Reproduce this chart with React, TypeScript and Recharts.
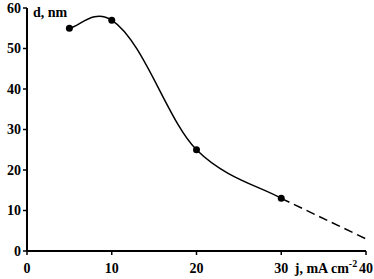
import React from 'react';
import { LineChart, Line, XAxis, YAxis, Label } from 'recharts';

const currentDensity = [5, 10, 20, 30, 40];
const sizeMeasured = [55, 57, 25, 13, null];
const sizeExtrapolated = [null, null, null, 13, 3];
const xTicks = [0, 10, 20, 30, 40];
const yTicks = [0, 10, 20, 30, 40, 50, 60];

const data = currentDensity.map((j, i) => ({
  j,
  d: sizeMeasured[i],
  dExt: sizeExtrapolated[i],
}));

const font = '"Liberation Serif"';
const tickStyle = { fontSize: 14, fontWeight: 700, fill: '#000', style: { fontFamily: font } };

const norm = (v: number[]) => {
  const l = Math.hypot(v[0], v[1]) || 1;
  return [v[0] / l, v[1] / l];
};
const sub = (a: number[], b: number[]) => [a[0] - b[0], a[1] - b[1]];

// Smoothed line through the points (cubic Bezier, blended Catmull-Rom / centripetal tangents)
const smoothCurve: any = (context: any) => {
  let pts: number[][] = [];
  const tangentDir = (i: number) => {
    const n = pts.length;
    if (i === 0) return norm(sub(pts[1], pts[0]));
    if (i === n - 1) return norm(sub(pts[n - 1], pts[n - 2]));
    const cr = norm(sub(pts[i + 1], pts[i - 1]));
    const a = norm(sub(pts[i], pts[i - 1]));
    const b = norm(sub(pts[i + 1], pts[i]));
    const us = norm([a[0] + b[0], a[1] + b[1]]);
    return norm([cr[0] + us[0], cr[1] + us[1]]);
  };
  const arm = (i: number, seg: number) => {
    const n = pts.length;
    const p0 = pts[Math.max(i - 1, 0)];
    const p2 = pts[Math.min(i + 1, n - 1)];
    const cr = Math.hypot(p2[0] - p0[0], p2[1] - p0[1]) / 6;
    return Math.min(Math.max(cr, seg / 4), seg / 2);
  };
  return {
    areaStart() {},
    areaEnd() {},
    lineStart() {
      pts = [];
    },
    point(x: number, y: number) {
      pts.push([+x, +y]);
    },
    lineEnd() {
      if (!pts.length) return;
      context.moveTo(pts[0][0], pts[0][1]);
      for (let i = 0; i < pts.length - 1; i++) {
        const p1 = pts[i];
        const p2 = pts[i + 1];
        const seg = Math.hypot(p2[0] - p1[0], p2[1] - p1[1]);
        const t1 = tangentDir(i);
        const t2 = tangentDir(i + 1);
        const a1 = arm(i, seg);
        const a2 = arm(i + 1, seg);
        context.bezierCurveTo(
          p1[0] + t1[0] * a1,
          p1[1] + t1[1] * a1,
          p2[0] - t2[0] * a2,
          p2[1] - t2[1] * a2,
          p2[0],
          p2[1]
        );
      }
    },
  };
};

const XLabel = (props: any) => {
  const vb = props.viewBox;
  const x = vb.x + vb.width * 0.79;
  const y = vb.y + 22;
  return (
    <text x={x} y={y} style={{ fontFamily: font }} fontSize={14} fontWeight={700} fill="#000">
      j, mA cm
      <tspan fontSize={10} dy={-6}>-2</tspan>
    </text>
  );
};

const YLabel = (props: any) => {
  const vb = props.viewBox;
  const x = vb.x + vb.width + 6;
  const y = vb.y + 9;
  return (
    <text x={x} y={y} style={{ fontFamily: font }} fontSize={14} fontWeight={700} fill="#000">
      d, nm
    </text>
  );
};

export default function App() {
  return (
    <div style={{ position: 'absolute', left: 0, top: 0, width: 374, height: 279, background: '#fff' }}>
      <LineChart width={374} height={279} data={data} margin={{ top: 8, right: 8, left: 0, bottom: 0 }}>
        <XAxis
          dataKey="j"
          type="number"
          domain={[0, 40]}
          ticks={xTicks}
          height={28}
          tick={tickStyle}
          tickSize={4}
          tickMargin={8}
          axisLine={{ stroke: '#000', strokeWidth: 2 }}
          tickLine={{ stroke: '#000', strokeWidth: 1.5 }}
          interval={0}
        >
          <Label content={XLabel} />
        </XAxis>
        <YAxis
          type="number"
          domain={[0, 60]}
          ticks={yTicks}
          width={27}
          tick={tickStyle}
          tickSize={4}
          tickMargin={2}
          axisLine={{ stroke: '#000', strokeWidth: 2 }}
          tickLine={{ stroke: '#000', strokeWidth: 1.5 }}
          interval={0}
        >
          <Label content={YLabel} />
        </YAxis>
        <Line
          dataKey="d"
          type={smoothCurve}
          stroke="#000"
          strokeWidth={1.5}
          dot={{ r: 3.5, fill: '#000', stroke: '#000', strokeWidth: 0 }}
          isAnimationActive={false}
        />
        <Line
          dataKey="dExt"
          type="linear"
          stroke="#000"
          strokeWidth={1.5}
          strokeDasharray="9 5"
          dot={false}
          isAnimationActive={false}
        />
      </LineChart>
    </div>
  );
}
